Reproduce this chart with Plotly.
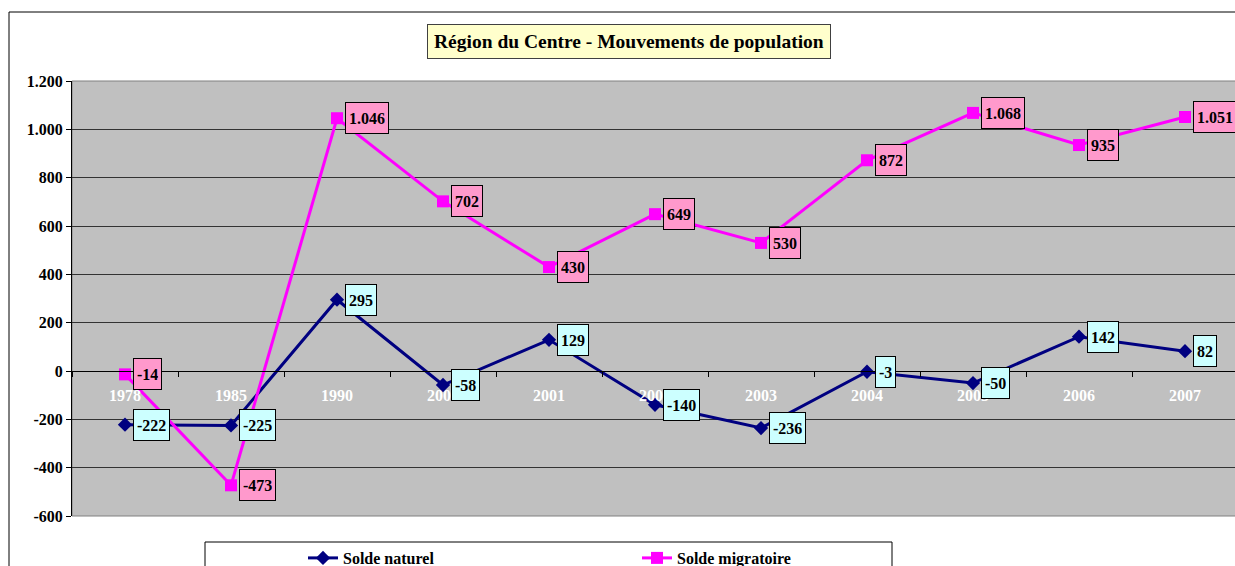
import plotly.graph_objects as go

years = ["1978", "1985", "1990", "2000", "2001", "2002", "2003", "2004", "2005", "2006", "2007"]
solde_naturel = [-222, -225, 295, -58, 129, -140, -236, -3, -50, 142, 82]
solde_migratoire = [-14, -473, 1046, 702, 430, 649, 530, 872, 1068, 935, 1051]
y_ticks = [-600, -400, -200, 0, 200, 400, 600, 800, 1000, 1200]

W, H = 1235, 566
ML, MT = 72, 81
PR, PB = 1235, 516
MR, MB = W - PR, H - PB
PW, PH = PR - ML, PB - MT
CAT_W = 106.0  # pixel width of one category band

def px2x(x):
    return (x - ML) / PW

def px2y(y):
    return (PB - y) / PH

FONT = "Liberation Serif"

def fmt(v):
    s = f"{abs(v):,}".replace(",", ".")
    return ("-" if v < 0 else "") + s

fig = go.Figure()
fig.add_trace(go.Scatter(
    x=years, y=solde_naturel, name="Solde naturel", mode="lines+markers",
    line=dict(color="#000080", width=3),
    marker=dict(symbol="diamond", size=11, color="#000080"),
))
fig.add_trace(go.Scatter(
    x=years, y=solde_migratoire, name="Solde migratoire", mode="lines+markers",
    line=dict(color="#FF00FF", width=3),
    marker=dict(symbol="square", size=12, color="#FF00FF"),
))

annotations = []
for series, bg in ((solde_naturel, "#CCFFFF"), (solde_migratoire, "#FF99CC")):
    for i, v in enumerate(series):
        annotations.append(dict(
            x=i, y=v, xref="x", yref="y", text=fmt(v), showarrow=False,
            xanchor="left", yanchor="middle", xshift=8,
            font=dict(family=FONT, size=16, color="black", weight="bold"),
            bgcolor=bg, bordercolor="#000000", borderwidth=1, borderpad=3,
            height=24,
        ))

annotations.append(dict(
    x=px2x(629), y=px2y(41.5), xref="paper", yref="paper",
    text="Région du Centre - Mouvements de population", showarrow=False,
    xanchor="center", yanchor="middle",
    font=dict(family=FONT, size=19.5, color="black", weight="bold"),
    bgcolor="#FFFFCC", bordercolor="#404040", borderwidth=1, borderpad=6,
))

shapes = [
    # outer chart frame
    dict(type="rect", xref="paper", yref="paper",
         x0=px2x(9), x1=px2x(1300), y0=px2y(640), y1=px2y(12),
         line=dict(color="black", width=1), fillcolor="rgba(0,0,0,0)", layer="below"),
    # plot area border
    dict(type="rect", xref="paper", yref="paper",
         x0=0, x1=1.05, y0=0, y1=1,
         line=dict(color="#808080", width=1), fillcolor="rgba(0,0,0,0)", layer="below"),
    # legend frame
    dict(type="rect", xref="paper", yref="paper",
         x0=px2x(205), x1=px2x(892), y0=px2y(620), y1=px2y(542),
         line=dict(color="black", width=1), fillcolor="white", layer="below"),
]

fig.update_layout(
    width=W, height=H,
    margin=dict(l=ML, r=MR, t=MT, b=MB, pad=0, autoexpand=False),
    paper_bgcolor="white", plot_bgcolor="#C0C0C0",
    showlegend=True,
    legend=dict(
        orientation="h", x=px2x(303), y=px2y(541), xanchor="left", yanchor="top",
        bgcolor="rgba(0,0,0,0)", borderwidth=0,
        font=dict(family=FONT, size=16, color="black", weight="bold"),
        entrywidth=289, entrywidthmode="pixels",
    ),
    annotations=annotations,
    shapes=shapes,
    xaxis=dict(
        type="category", range=[-0.5, -0.5 + PW / CAT_W],
        anchor="free", position=600 / 1800,
        showline=True, linecolor="black", linewidth=1,
        ticks="outside", tickson="boundaries", ticklen=5, tickcolor="black",
        tickfont=dict(family=FONT, size=16, color="white", weight="bold"),
        ticklabelstandoff=10,
        showgrid=False, zeroline=False,
    ),
    yaxis=dict(
        range=[-600, 1200], tickvals=y_ticks, ticktext=[fmt(v) for v in y_ticks],
        showline=True, linecolor="black", linewidth=1,
        ticks="outside", ticklen=5, tickcolor="black",
        tickfont=dict(family=FONT, size=16, color="black", weight="bold"),
        showgrid=True, gridcolor="#333333", gridwidth=1,
        zeroline=False,
    ),
)

fig.write_html(
    "out.html",
    config={"displayModeBar": False},
    post_script="document.body.style.margin='0';document.body.style.overflow='hidden';",
)
